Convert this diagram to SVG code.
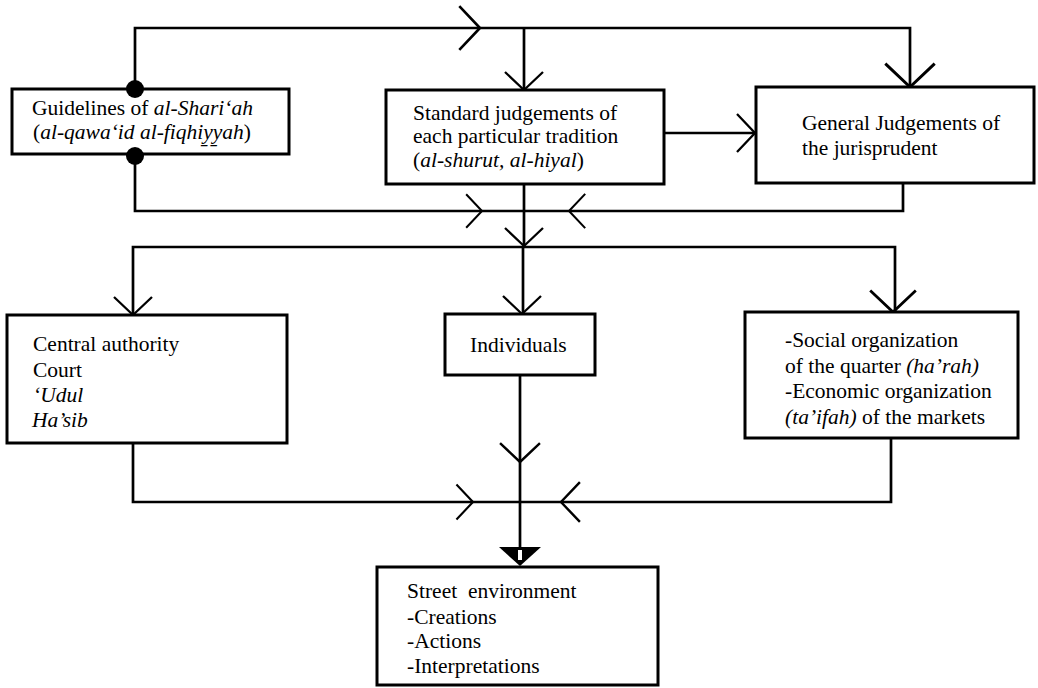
<svg xmlns="http://www.w3.org/2000/svg" xmlns:xlink="http://www.w3.org/1999/xlink" width="1038" height="688" viewBox="0 0 1038 688">
  <style>
    .box { fill: #fff; stroke: #000; stroke-width: 3; }
    .wire { fill: none; stroke: #000; stroke-width: 2.7; stroke-linejoin: miter; }
    .lbl { font-family: "Liberation Serif", "Times New Roman", serif; font-size: 21.5px; fill: #000; }
    .it { font-style: italic; }
  </style>
  <defs>
    <!-- open V arrowhead, tip at origin, pointing along +x -->
    <path id="vhead" d="M-18,-19 L0,0 L-18,19" fill="none" stroke="#000" stroke-width="2.3"/>
  </defs>

  <rect width="1038" height="688" fill="#fff"/>

  <g id="connectors">
    <!-- upper loop from the guidelines over the top -->
    <path class="wire" d="M135,89 V28 H910 V87"/>
    <path class="wire" d="M524,28 V90"/>
    <path class="wire" d="M664,133 H755"/>
    <!-- lower loop returning under the first row -->
    <path class="wire" d="M135,156 V211 H903 V183"/>
    <path class="wire" d="M524,184 V247 M523,247 V314"/>
    <!-- distribution line to the second row -->
    <path class="wire" d="M133,315 V247 H895 V312"/>
    <!-- collecting line above the street environment -->
    <path class="wire" d="M133,443 V502 H891 V438"/>
    <path class="wire" d="M520,375 V548"/>

    <use xlink:href="#vhead" href="#vhead" transform="translate(480,28) scale(1.15)"/>
    <use xlink:href="#vhead" href="#vhead" transform="translate(524,90) rotate(90)"/>
    <use xlink:href="#vhead" href="#vhead" transform="translate(910,87) rotate(90) scale(1.3)"/>
    <use xlink:href="#vhead" href="#vhead" transform="translate(755,133)"/>
    <use xlink:href="#vhead" href="#vhead" transform="translate(482,211) scale(0.88)"/>
    <use xlink:href="#vhead" href="#vhead" transform="translate(569,211) rotate(180) scale(0.9)"/>
    <use xlink:href="#vhead" href="#vhead" transform="translate(524,246) rotate(90)"/>
    <use xlink:href="#vhead" href="#vhead" transform="translate(133,315) rotate(90)"/>
    <use xlink:href="#vhead" href="#vhead" transform="translate(522,314) rotate(90)"/>
    <use xlink:href="#vhead" href="#vhead" transform="translate(893,312) rotate(90) scale(1.2)"/>
    <use xlink:href="#vhead" href="#vhead" transform="translate(520,462) rotate(90) scale(1.05)"/>
    <use xlink:href="#vhead" href="#vhead" transform="translate(473,502) scale(0.92)"/>
    <use xlink:href="#vhead" href="#vhead" transform="translate(561,502) rotate(180) scale(1.05)"/>

    <!-- filled end marker on the street environment -->
    <path d="M499,547 L541,547 L520,566 Z" fill="#000"/>
    <rect x="518" y="550" width="4" height="10" fill="#fff"/>
  </g>

  <g id="guidelines">
    <rect class="box" x="12" y="89" width="277" height="65"/>
    <text class="lbl" x="32" y="115">Guidelines of <tspan class="it">al-Shari‘ah</tspan></text>
    <text class="lbl" x="33" y="139">(<tspan class="it">al-qawa‘id al-fiqhiy̱y̱ah</tspan>)</text>
  </g>

  <!-- junction dots where the loops leave the guidelines box -->
  <g id="junctions">
    <circle cx="135" cy="89" r="9" fill="#000"/>
    <circle cx="135" cy="156" r="9" fill="#000"/>
  </g>

  <g id="standard">
    <rect class="box" x="386" y="90" width="278" height="94"/>
    <text class="lbl" x="413" y="120">Standard judgements of</text>
    <text class="lbl" x="413" y="143">each particular tradition</text>
    <text class="lbl" x="413" y="167">(<tspan class="it">al-shurut,  al-hiyal</tspan>)</text>
  </g>

  <g id="general">
    <rect class="box" x="756" y="87" width="278" height="96"/>
    <text class="lbl" x="802" y="130">General Judgements of</text>
    <text class="lbl" x="802" y="155">the jurisprudent</text>
  </g>

  <g id="central">
    <rect class="box" x="7" y="315" width="280" height="128"/>
    <text class="lbl" x="33" y="351">Central authority</text>
    <text class="lbl" x="33" y="377">Court</text>
    <text class="lbl it" x="33" y="402">‘Udul</text>
    <text class="lbl it" x="32" y="427">Ha’sib</text>
  </g>

  <g id="individuals">
    <rect class="box" x="445" y="314" width="150" height="61"/>
    <text class="lbl" x="470" y="352">Individuals</text>
  </g>

  <g id="organization">
    <rect class="box" x="745" y="312" width="273" height="126"/>
    <text class="lbl" x="785" y="347">-Social organization</text>
    <text class="lbl" x="785" y="373">of the quarter <tspan class="it">(ha’rah)</tspan></text>
    <text class="lbl" x="785" y="398">-Economic organization</text>
    <text class="lbl" x="785" y="424"><tspan class="it">(ta’ifah)</tspan> of the markets</text>
  </g>

  <g id="street">
    <rect class="box" x="377" y="567" width="281" height="118"/>
    <text class="lbl" x="407" y="598" style="white-space:pre">Street  environment</text>
    <text class="lbl" x="407" y="624">-Creations</text>
    <text class="lbl" x="407" y="648">-Actions</text>
    <text class="lbl" x="407" y="673">-Interpretations</text>
  </g>
</svg>
